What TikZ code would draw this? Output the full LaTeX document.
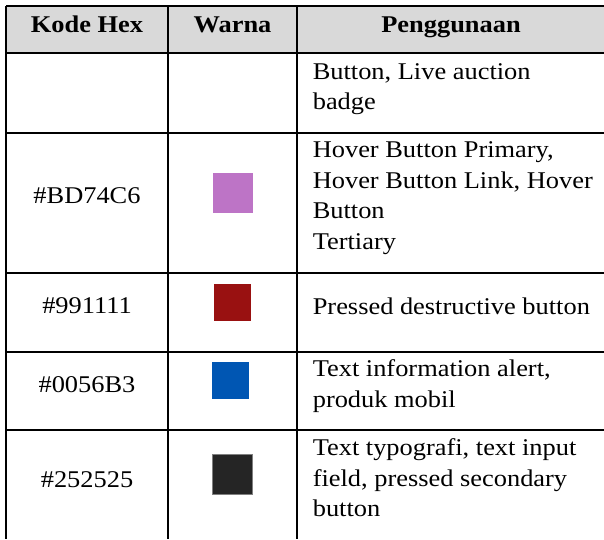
\documentclass[tikz,border=0pt]{standalone}
\usepackage{fontspec}
\setmainfont{Liberation Serif}[FakeStretch=1.1]
\usetikzlibrary{positioning}

\definecolor{headgrey}{HTML}{D9D9D9}
\definecolor{cPurple}{HTML}{BD74C6}
\definecolor{cRed}{HTML}{991111}
\definecolor{cBlue}{HTML}{0056B3}
\definecolor{cDark}{HTML}{252525}

\tikzset{
  hdr/.style={anchor=base, inner sep=0pt, font=\fontsize{24}{30}\selectfont\bfseries},
  code/.style={anchor=base, inner sep=0pt},
  usage/.style={anchor=base west, align=left, inner sep=0pt},
  swatch/.style={inner sep=0pt, minimum width=#1, minimum height=#1},
  swatch/.default=40pt
}

\begin{document}
\begin{tikzpicture}[x=1pt, y=-1pt, every path/.style={line width=1.6pt}, font=\fontsize{24}{30.5}\selectfont]
\useasboundingbox (0,0) rectangle (604,539);

\fill[headgrey] (6,6) rectangle (604,53);

% grid of the table
\draw (6,6) -- (604,6);
\draw (6,53) -- (604,53);
\draw (6,133) -- (604,133);
\draw (6,273) -- (604,273);
\draw (6,352) -- (604,352);
\draw (6,430) -- (604,430);
\draw (6,6) -- (6,539);
\draw (168,6) -- (168,539);
\draw (297,6) -- (297,539);

% -------------------------------
% (usage cells: anchored on the baseline of their last line)

\node (hKode) [hdr] at (87,32.3) {Kode Hex};
\node (hWarna) [hdr] at (232.5,32.3) {Warna};
\node (hUsage) [hdr] at (451,32.3) {Penggunaan};

\node (uLive) [usage] at (312,109.8) {Button, Live auction\\badge};

\node (kPurple) [code] at (87,203) {\#BD74C6};
\node (sPurple) [swatch, fill=cPurple] at (233,193.3) {};
\node (uPurple) [usage] at (312,249.3) {Hover Button Primary,\\Hover Button Link, Hover\\Button\\Tertiary};

\node (kRed) [code] at (87,313.5) {\#991111};
\node (sRed) [swatch=37pt, fill=cRed] at (232.5,302.5) {};
\node (uRed) [usage] at (312,314.3) {Pressed destructive button};

\node (kBlue) [code] at (87,392.3) {\#0056B3};
\node (sBlue) [swatch=37pt, fill=cBlue] at (230.8,380.3) {};
\node (uBlue) [usage] at (312,407) {Text information alert,\\produk mobil};

\node (kDark) [code] at (87,487.3) {\#252525};
\node (sDark) [swatch, fill=cDark, draw=gray, line width=0.6pt] at (232.3,474.5) {};
\node (uDark) [usage] at (312,516.7) {Text typografi, text input\\field, pressed secondary\\button};
\end{tikzpicture}
\end{document}
